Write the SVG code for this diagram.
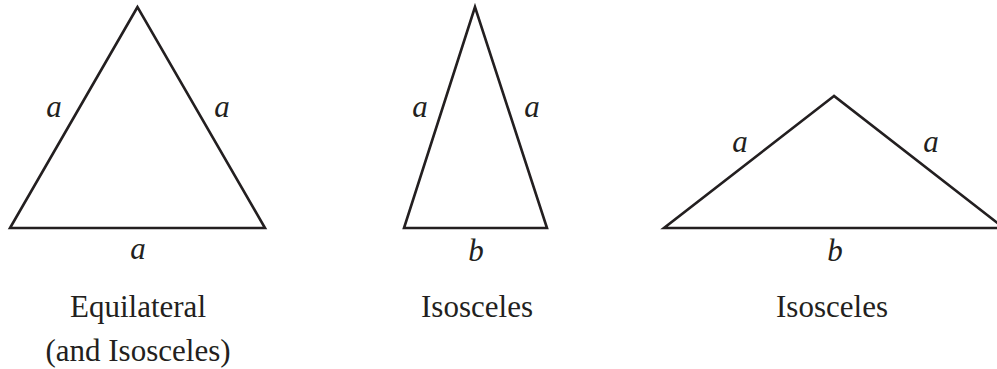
<svg xmlns="http://www.w3.org/2000/svg" width="997" height="369" viewBox="0 0 997 369">
<style>
.tri{fill:none;stroke:#231f20;stroke-width:2.6;stroke-linejoin:miter}
.lbl{font-family:"Liberation Serif","Times New Roman",serif;font-style:italic;font-size:31px;fill:#231f20;text-anchor:middle}
.cap{font-family:"Liberation Serif","Times New Roman",serif;font-size:31px;fill:#231f20;text-anchor:middle}
</style>
<rect width="997" height="369" fill="#fff"/>
<g id="equilateral">
<polygon class="tri" points="137.5,7 10,228 265,228"/>
<text class="lbl" x="54" y="117">a</text>
<text class="lbl" x="222" y="117">a</text>
<text class="lbl" x="138" y="259">a</text>
<text class="cap" x="138" y="317">Equilateral</text>
<text class="cap" x="138" y="361">(and Isosceles)</text>
</g>
<g id="isosceles-tall">
<polygon class="tri" points="475,7 404,228 547,228"/>
<text class="lbl" x="420" y="117">a</text>
<text class="lbl" x="532" y="117">a</text>
<text class="lbl" x="476" y="261">b</text>
<text class="cap" x="477" y="317">Isosceles</text>
</g>
<g id="isosceles-wide">
<polygon class="tri" points="834,96 664,228 1004,228"/>
<text class="lbl" x="740" y="152">a</text>
<text class="lbl" x="931" y="152">a</text>
<text class="lbl" x="835" y="261">b</text>
<text class="cap" x="832" y="317">Isosceles</text>
</g>
<g id="connectors"/>
</svg>
